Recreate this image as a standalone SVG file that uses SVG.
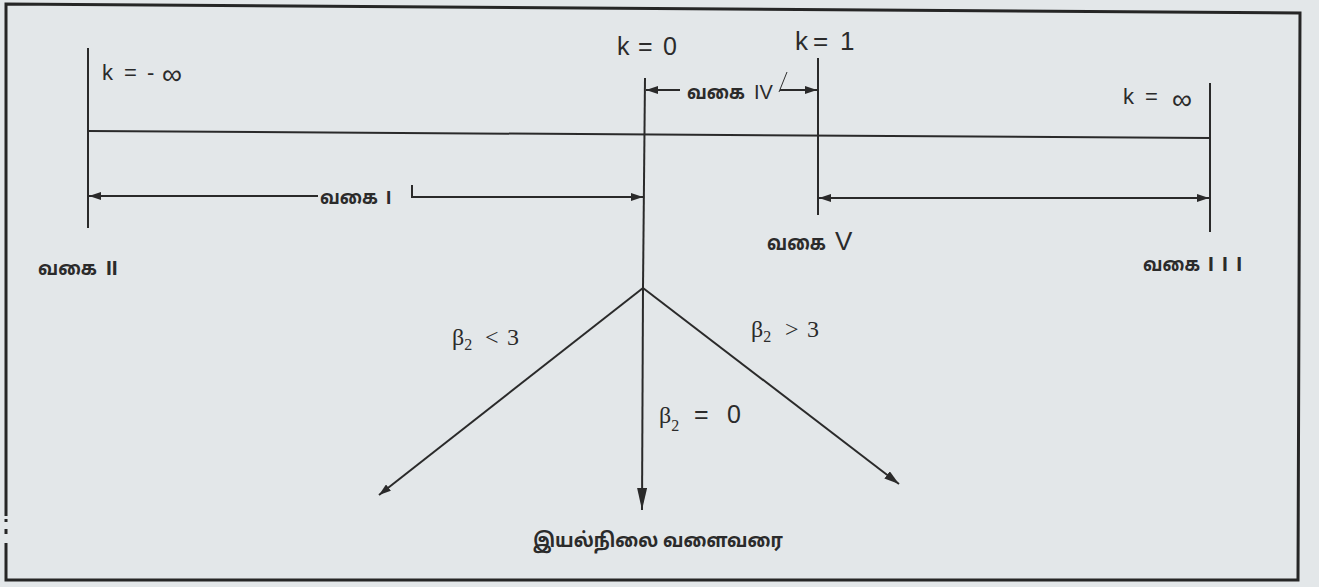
<svg xmlns="http://www.w3.org/2000/svg" width="1319" height="587" viewBox="0 0 1319 587">
<style>
.bg{fill:#e3e7e9}
.frame{fill:none;stroke:#262626;stroke-width:3}
.ln{fill:none;stroke:#2a2a2a;stroke-width:2}
.thin{fill:none;stroke:#2e2e2e;stroke-width:1}
.sans{font-family:"Liberation Sans","Noto Sans",sans-serif;fill:#2b2b2b}
.num{font-family:"Liberation Sans","Noto Sans",sans-serif;font-weight:bold;fill:#2b2b2b}
.ser{font-family:"Liberation Serif","DejaVu Serif",serif;fill:#2b2b2b}
.tm{font-family:"Noto Sans Tamil","Noto Sans","DejaVu Sans",sans-serif;font-weight:bold;fill:#2b2b2b}
</style>
<defs>
<marker id="ah" viewBox="0 0 12 8" markerWidth="12" markerHeight="8" refX="12" refY="4" orient="auto-start-reverse" markerUnits="userSpaceOnUse">
<path d="M0,0 L12,4 L0,8 z" fill="#2a2a2a"/>
</marker>
<marker id="ahL" viewBox="0 0 22 10" markerWidth="22" markerHeight="10" refX="22" refY="5" orient="auto" markerUnits="userSpaceOnUse">
<path d="M0,0 L22,5 L0,10 z" fill="#2a2a2a"/>
</marker>
<marker id="ahM" viewBox="0 0 15 9" markerWidth="15" markerHeight="9" refX="15" refY="4.5" orient="auto" markerUnits="userSpaceOnUse">
<path d="M0,0 L15,4.5 L0,9 z" fill="#2a2a2a"/>
</marker>
</defs>
<rect class="bg" x="0" y="0" width="1319" height="587"/>
<g id="frame">
<path class="frame" d="M6,516 L6,4 L1300,13 L1298,580 L6,580 L6,543"/>
<path class="frame" d="M6,519 L6,522 M6,529 L6,534"/>
</g>
<g id="connectors">
<line class="ln" x1="88" y1="131" x2="1210" y2="138"/>
<line class="ln" x1="88" y1="48" x2="88" y2="228"/>
<line class="ln" x1="645" y1="78" x2="643" y2="288"/>
<line class="ln" x1="818" y1="58" x2="818" y2="215"/>
<line class="ln" x1="1210" y1="83" x2="1210" y2="232"/>
<line class="ln" x1="318" y1="196" x2="89" y2="196" marker-end="url(#ah)"/>
<path class="ln" d="M412,185 L412,197 L643,197" marker-end="url(#ah)"/>
<line class="ln" x1="680" y1="90" x2="646" y2="90" marker-end="url(#ah)"/>
<line class="ln" x1="780" y1="90" x2="817" y2="90" marker-end="url(#ah)"/>
<line class="thin" x1="779" y1="92" x2="787" y2="72"/>
<line class="ln" x1="819" y1="198" x2="1209" y2="198" marker-start="url(#ah)" marker-end="url(#ah)"/>
<line class="ln" x1="643" y1="288" x2="642" y2="510" marker-end="url(#ahL)"/>
<line class="ln" x1="643" y1="288" x2="379" y2="495" marker-end="url(#ah)"/>
<line class="ln" x1="643" y1="288" x2="899" y2="484" marker-end="url(#ahM)"/>
</g>
<g id="k-minus-inf">
<text class="sans" font-size="22" x="102" y="80">k<tspan x="124">=</tspan><tspan x="147">-</tspan><tspan x="162" y="84" font-size="28">∞</tspan></text>
</g>
<g id="k-zero">
<text class="sans" font-size="25" x="617" y="55">k<tspan x="638">=</tspan><tspan x="663">0</tspan></text>
</g>
<g id="k-one">
<text class="sans" font-size="26" x="795" y="50">k<tspan x="813">=</tspan><tspan x="840">1</tspan></text>
</g>
<g id="k-inf">
<text class="sans" font-size="22" x="1123" y="104">k<tspan x="1145">=</tspan><tspan x="1172" y="109" font-size="28">∞</tspan></text>
</g>
<g id="type-1">
<text class="tm" font-size="20" x="320" y="204" textLength="58" lengthAdjust="spacingAndGlyphs">வகை</text>
<text class="num" font-size="19" x="386" y="204">I</text>
</g>
<g id="type-2">
<text class="tm" font-size="20" x="38" y="275" textLength="59" lengthAdjust="spacingAndGlyphs">வகை</text>
<text class="num" font-size="21" x="106" y="275">II</text>
</g>
<g id="type-3">
<text class="tm" font-size="20" x="1143" y="271" textLength="57" lengthAdjust="spacingAndGlyphs">வகை</text>
<text class="num" font-size="21" x="1208" y="271" textLength="34" lengthAdjust="spacing">III</text>
</g>
<g id="type-4">
<text class="tm" font-size="20" x="687" y="99" textLength="58" lengthAdjust="spacingAndGlyphs">வகை</text>
<text class="sans" font-size="20" x="754" y="99">IV</text>
</g>
<g id="type-5">
<text class="tm" font-size="21" x="767" y="250" textLength="59" lengthAdjust="spacingAndGlyphs">வகை</text>
<text class="sans" font-size="26" x="835" y="250">V</text>
</g>
<g id="beta-lt">
<text class="ser" font-size="24" x="452" y="345">β<tspan font-size="16" dy="5">2</tspan><tspan x="485" dy="-5">&lt;</tspan><tspan x="507">3</tspan></text>
</g>
<g id="beta-gt">
<text class="ser" font-size="24" x="751" y="337">β<tspan font-size="16" dy="5">2</tspan><tspan x="785" dy="-5">&gt;</tspan><tspan x="807">3</tspan></text>
</g>
<g id="beta-eq">
<text class="ser" font-size="24" x="659" y="423">β<tspan font-size="16" dy="8">2</tspan><tspan class="sans" font-size="25" x="694" dy="-8">=</tspan><tspan class="sans" font-size="25" x="727">0</tspan></text>
</g>
<g id="normal-curve">
<text class="tm" font-size="20" x="533" y="547" textLength="250" lengthAdjust="spacingAndGlyphs">இயல்நிலை வளைவரை</text>
</g>
</svg>
